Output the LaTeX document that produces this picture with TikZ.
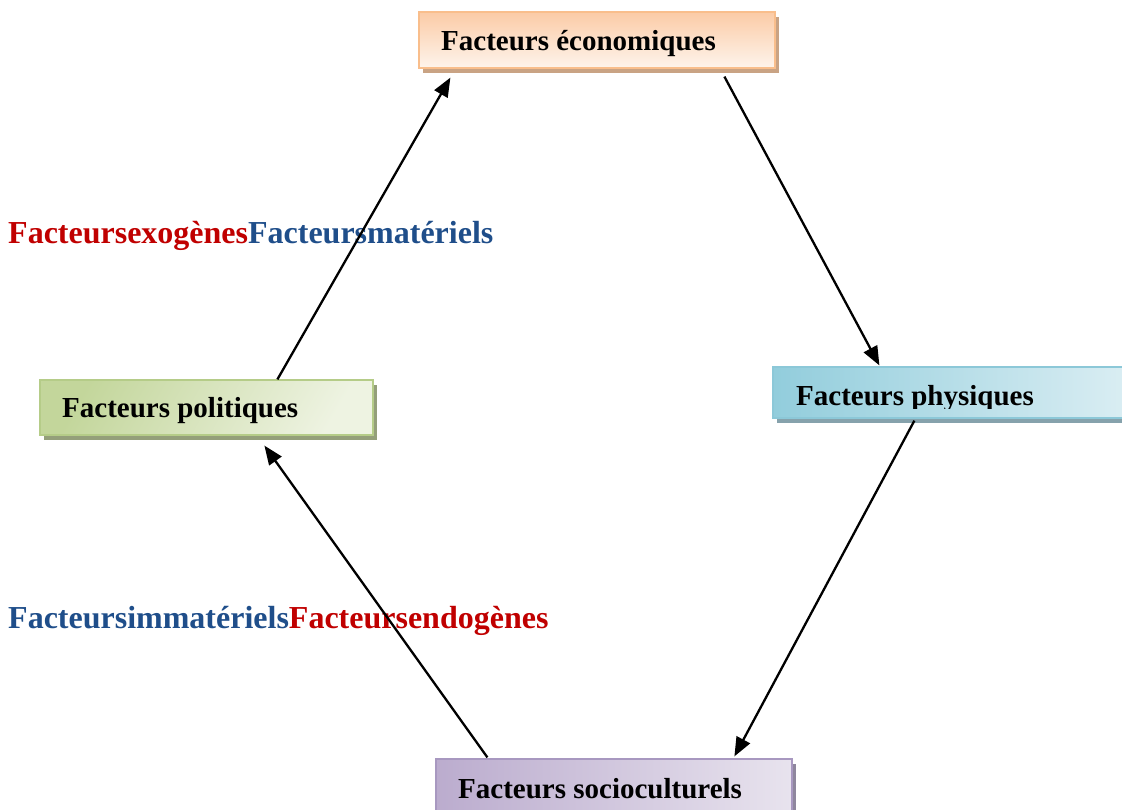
\documentclass[tikz,border=0pt]{standalone}
\usepackage{fontspec}
\setmainfont{Liberation Serif}
\usetikzlibrary{arrows.meta,shadows,calc}
\definecolor{redlab}{HTML}{C00000}
\definecolor{bluelab}{HTML}{1F4E8A}
\definecolor{ecoA}{HTML}{FBCBA6}
\definecolor{ecoB}{HTML}{FEF4EC}
\definecolor{ecoD}{HTML}{F9BE8C}
\definecolor{ecoS}{HTML}{C9A384}
\definecolor{polA}{HTML}{C3D69B}
\definecolor{polB}{HTML}{EEF3E2}
\definecolor{polD}{HTML}{B5CC88}
\definecolor{polS}{HTML}{949F7A}
\definecolor{phyA}{HTML}{92CDDC}
\definecolor{phyB}{HTML}{DDEFF4}
\definecolor{phyD}{HTML}{8CC8D8}
\definecolor{phyS}{HTML}{86A2AC}
\definecolor{socA}{HTML}{BBACCE}
\definecolor{socB}{HTML}{E8E3EE}
\definecolor{socD}{HTML}{A898C0}
\definecolor{socS}{HTML}{8F879E}
\tikzset{
  box/.style={draw, line width=1.2pt, inner sep=0pt},
  boxtext/.style={anchor=base west, inner sep=0pt, font=\fontsize{29}{34}\selectfont\bfseries},
  lab/.style={anchor=base west, inner sep=0pt, font=\fontsize{32}{38}\selectfont\bfseries},
  arr/.style={line width=2.3pt, -{Triangle[length=19pt,width=15pt]}},
}
\begin{document}
\begin{tikzpicture}[x=1pt,y=-1pt]
\useasboundingbox (0,0) rectangle (1122,809);
\clip (0,0) rectangle (1122,809);
% boxes
\node[box, draw=ecoD, top color=ecoA, bottom color=ecoB, minimum width=356pt, minimum height=56pt,
  drop shadow={shadow xshift=4pt, shadow yshift=-5pt, fill=ecoS, opacity=1}] (eco) at (597,40) {};
\node[box, draw=polD, left color=polA, right color=polB, shading angle=60, minimum width=333pt, minimum height=55pt,
  drop shadow={shadow xshift=4pt, shadow yshift=-5pt, fill=polS, opacity=1}] (pol) at (206.5,407.5) {};
\node[box, draw=phyD, left color=phyA, right color=phyB, minimum width=370pt, minimum height=51pt,
  drop shadow={shadow xshift=4pt, shadow yshift=-5pt, fill=phyS, opacity=1}] (phy) at (958,392.5) {};
\node[box, draw=socD, left color=socA, right color=socB, minimum width=356pt, minimum height=61pt,
  drop shadow={shadow xshift=4pt, shadow yshift=-5pt, fill=socS, opacity=1}] (soc) at (614,789.5) {};
% box texts
\node[boxtext] (ecot) at (441,50) {Facteurs économiques};
\node[boxtext] (polt) at (62,417) {Facteurs politiques};
\begin{scope}
\clip (770,360) rectangle (1122,408);
\node[boxtext] (phyt) at (796,405) {Facteurs physiques};
\end{scope}
\node[boxtext] (soct) at (458,798) {Facteurs socioculturels};
% labels
\node[lab] (l1) at (8,243) {\textcolor{redlab}{Facteursexogènes}\textcolor{bluelab}{Facteursmatériels}};
\node[lab] (l2) at (8,628) {\textcolor{bluelab}{Facteursimmatériels}\textcolor{redlab}{Facteursendogènes}};
% connectors
\draw[arr] ($(pol.north west)+(238,0)$) -- ($(eco.south west)+(32,9)$);
\draw[arr] ($(eco.south west)+(306,8)$) -- ($(phy.north west)+(107,-1)$);
\draw[arr] ($(phy.south west)+(142,2)$) -- ($(soc.north west)+(299,-2)$);
\draw[arr] ($(soc.north west)+(52,-1)$) -- ($(pol.south west)+(225,10)$);
\end{tikzpicture}
\end{document}
